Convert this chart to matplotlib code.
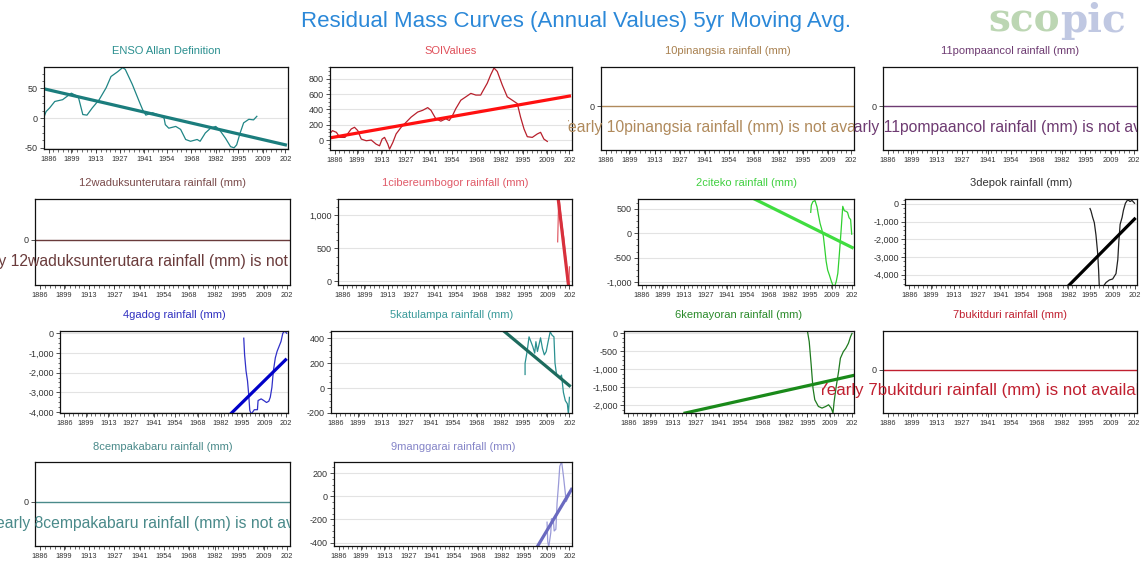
import numpy as np
import matplotlib
matplotlib.use("Agg")
from matplotlib import pyplot as plt
from matplotlib.ticker import FuncFormatter, MultipleLocator, AutoMinorLocator, NullLocator
from matplotlib.transforms import Bbox, TransformedBbox

plt.rcParams['font.family'] = ['Liberation Sans', 'DejaVu Sans']

# ---- data ----
x_ticks = [1886, 1899, 1913, 1927, 1941, 1954, 1968, 1982, 1995, 2009, 2022]
x_tick_labels = ['1886', '1899', '1913', '1927', '1941', '1954', '1968', '1982', '1995', '2009', '202']

enso_years = [1883.7, 1884.5, 1886.5, 1889.5, 1894, 1899, 1903, 1905.6, 1908, 1911, 1915, 1919,
              1921.8, 1925.6, 1928.5, 1930, 1934, 1938, 1940, 1941.8, 1945.6, 1949.4, 1952.3,
              1953, 1955, 1959, 1961.8, 1964.7, 1967.5, 1971.3, 1973, 1976, 1979, 1982, 1984.7,
              1987.6, 1990.5, 1992.5, 1994, 1996, 1998, 2001, 2003.7, 2005.6]
enso_vals = [5, 11, 17, 28, 31, 42, 36, 6, 5, 17, 31, 51, 70, 78, 85, 82, 57, 28, 14, 5, 9, 5, 0,
             -11, -17, -14, -19, -36, -39, -36, -39, -25, -17, -14, -22, -34, -48, -50, -45, -25,
             -8, -2, -3, 3]
enso_trend_years = [1883.7, 2022]
enso_trend_vals = [49, -45]

soi_years = [1883.1, 1884.7, 1887, 1889, 1892, 1895.6, 1897.5, 1899.4, 1901.4, 1904.3, 1907.2,
             1910, 1912, 1913.5, 1914.9, 1916.8, 1917.8, 1919.7, 1921.6, 1924.5, 1927.4, 1930.3,
             1934.1, 1937, 1939.9, 1941.8, 1944.6, 1947.5, 1950.4, 1952.4, 1954.3, 1956.2, 1959.1,
             1962, 1964.9, 1967.8, 1970.6, 1971.6, 1974.4, 1976.4, 1978.3, 1980.2, 1983.1, 1986,
             1988.9, 1991.8, 1993.7, 1995.7, 1997.6, 2000.5, 2003.4, 2005.3, 2007.2, 2009.2]
soi_vals = [80, 123, 101, 35, 35, 145, 167, 123, 13, -9, 0, -53, -75, 13, 35, -53, -119, -31, 80,
            167, 233, 300, 366, 389, 424, 389, 278, 247, 278, 256, 322, 411, 521, 565, 610, 588,
            588, 631, 743, 853, 942, 897, 720, 565, 521, 477, 300, 145, 44, 35, 80, 101, 13, -18]
soi_trend_years = [1883.1, 2022]
soi_trend_vals = [28, 575]

cib_years = [2014.9, 2015.3, 2015.6, 2016.2, 2017, 2017.8, 2018.6, 2019.3, 2020, 2020.6, 2021.1, 2021.6, 2022]
cib_vals = [600, 1000, 1300, 1150, 950, 800, 650, 450, 300, 60, -60, -20, 220]
cib_trend_years = [2015.0, 2021.4]
cib_trend_vals = [1300, -60]

cit_years = [1995.4, 1995.8, 1996.8, 1998.2, 1999.5, 2000.3, 2001.5, 2002.5, 2003.6, 2004.4,
             2005.4, 2006.4, 2007.6, 2008.7, 2009.7, 2011, 2012, 2013, 2014, 2015.2, 2016.2,
             2017.2, 2018.2, 2019.3, 2020.3, 2021.3, 2022]
cit_vals = [427, 573, 646, 668, 537, 390, 198, 88, -58, -278, -571, -754, -864, -974, -1060, -1080,
            -985, -820, -425, 88, 550, 460, 450, 427, 317, 280, -20]
cit_trend_years = [1959, 2022.3]
cit_trend_vals = [698, -293]

dep_years = [1995.1, 1995.7, 1996.7, 1997.7, 1998.7, 1999.7, 2000.3, 2000.7, 2002.8, 2004.8,
             2006.8, 2008.8, 2010.8, 2011.9, 2012.5, 2013.3, 2014.5, 2015.3, 2016.5, 2017.9,
             2019.3, 2020.5, 2022]
dep_vals = [-259, -398, -756, -1055, -1751, -2746, -3741, -4650, -4700, -4438, -4298, -4239, -3940,
            -3144, -2149, -1154, -756, -358, 40, 239, 139, 199, 40]
dep_trend_years = [1982.6, 2022]
dep_trend_vals = [-4577, -850]

gad_years = [1996.3, 1996.8, 1997.7, 1998.6, 1999.3, 2000, 2000.9, 2002.8, 2004.7, 2005.1, 2007,
             2008.6, 2010.3, 2011.7, 2012.6, 2013.6, 2014.5, 2015.7, 2016.8, 2018, 2019.2, 2020.3,
             2021.5, 2022.7]
gad_vals = [-250, -1083, -1917, -2417, -3083, -3917, -4100, -3883, -3883, -3417, -3333, -3417,
            -3517, -3450, -3250, -2750, -1917, -1250, -917, -667, -417, 0, 117, 0]
gad_trend_years = [1988.8, 2022]
gad_trend_vals = [-4050, -1350]

kat_years = [1996.2, 1996.2, 1997.4, 1998.5, 1999.6, 2000.7, 2001.8, 2002.5, 2003.4, 2004.7,
             2005.2, 2006.3, 2007.4, 2008.5, 2009.6, 2010.8, 2011.9, 2013, 2013.6, 2014.5, 2016.3,
             2017.4, 2018.5, 2019.6, 2020.8, 2021.4, 2022]
kat_vals = [110, 200, 295, 413, 374, 334, 282, 374, 295, 374, 405, 320, 268, 295, 374, 453, 426,
            413, 203, 110, 84, 105, -34, -100, -126, -210, -74]
kat_trend_years = [1984, 2022]
kat_trend_vals = [458, 20]

kem_years = [1995.1, 1996.2, 1997.4, 1998.5, 1999.6, 2001.8, 2004, 2006.3, 2008, 2009.6, 2010.7,
             2011.4, 2012.5, 2014.1, 2015.2, 2017, 2018.5, 2020.1, 2021.4, 2022.3]
kem_vals = [65, -230, -876, -1521, -1843, -2028, -2074, -2028, -1982, -2074, -2212, -1889, -1521,
            -1060, -691, -507, -415, -276, -92, 0]
kem_trend_years = [1920.5, 2023]
kem_trend_vals = [-2212, -1170]

man_years = [2008.8, 2009.2, 2009.8, 2011, 2011.4, 2012.5, 2013, 2014, 2014.7, 2015.6, 2016.3,
             2017.4, 2018.5, 2019.2, 2020.1, 2021, 2022]
man_vals = [-224, -391, -440, -315, -194, -200, -300, -285, -60, 109, 260, 300, 170, 76, -45, -15, 15]
man_trend_years = [2003.3, 2023.2]
man_trend_vals = [-430, 60]

x_min, x_max = 1883.3, 2023.5
px_w, px_h = 1143, 562

fig = plt.figure(figsize=(px_w / 100, px_h / 100), dpi=100)
fig.patch.set_facecolor('white')


def frac(left, top, right, bottom):
    return [left / px_w, 1 - bottom / px_h, (right - left) / px_w, (bottom - top) / px_h]


def comma_fmt(v, pos):
    return f"{v:,.0f}"


def make_axes(box, title, title_color, ylim, ystep):
    ax = fig.add_axes(frac(*box))
    ax.set_xlim(x_min, x_max)
    ax.set_ylim(*ylim)
    ax.set_xticks(x_ticks)
    ax.set_xticklabels(x_tick_labels)
    ax.set_xticks(np.arange(1886, 2023, 13.6 / 5), minor=True)
    ax.yaxis.set_major_locator(MultipleLocator(ystep))
    ax.yaxis.set_minor_locator(AutoMinorLocator(4))
    ax.yaxis.set_major_formatter(FuncFormatter(comma_fmt))
    ax.tick_params(axis='x', which='major', labelsize=5.3, length=3, width=0.6, pad=2, colors='#333333')
    ax.tick_params(axis='x', which='minor', length=2, width=0.5, colors='#333333')
    ax.tick_params(axis='y', which='major', labelsize=6.5, length=3, width=0.6, pad=1.5, colors='#333333')
    ax.tick_params(axis='y', which='minor', length=1.5, width=0.5, colors='#333333')
    for s in ax.spines.values():
        s.set_linewidth(0.9)
        s.set_color('#111111')
    ax.set_title(title, color=title_color, fontsize=8, pad=9)
    return ax


def data_panel(box, title, title_color, ylim, ystep, yrs, vals, t_yrs, t_vals,
               line_color, trend_color):
    ax = make_axes(box, title, title_color, ylim, ystep)
    ax.grid(axis='y', color='#e3e3e3', linewidth=0.8)
    ax.set_axisbelow(True)
    ax.plot(yrs, vals, color=line_color, linewidth=0.9)
    ax.plot(t_yrs, t_vals, color=trend_color, linewidth=2.3)
    return ax


def empty_panel(box, title, title_color, line_color, msg, msg_left, clip, msg_size=11.3):
    ax = make_axes(box, title, title_color, (-1.05, 0.95), 1)
    ax.set_yticks([0])
    ax.yaxis.set_minor_locator(NullLocator())
    ax.axhline(0, color=line_color, linewidth=1.0)
    top, bottom = box[1], box[3]
    y_msg = bottom - (bottom - top) * 0.27
    t = fig.text(msg_left / px_w, 1 - y_msg / px_h, msg, color=line_color, fontsize=msg_size,
                 ha='left', va='center')
    t.set_clip_box(TransformedBbox(Bbox.from_extents(clip[0] / px_w, 0, clip[1] / px_w, 1),
                                   fig.transFigure))
    t.set_clip_on(True)
    return ax


# row 1
data_panel((44, 67, 288, 149), 'ENSO Allan Definition', '#2a8f8f', (-52, 86), 50,
           enso_years, enso_vals, enso_trend_years, enso_trend_vals, '#1f8585', '#1b7d7d')
data_panel((330, 67, 572, 150), 'SOIValues', '#e0505a', (-130, 955), 200,
           soi_years, soi_vals, soi_trend_years, soi_trend_vals, '#b8202c', '#ff1010')
empty_panel((601, 67, 854, 150), '10pinangsia rainfall (mm)', '#a8804f', '#b08a5c',
            'Yearly 10pinangsia rainfall (mm) is not available', 559, (568, 854))
empty_panel((883, 67, 1137, 150), '11pompaancol rainfall (mm)', '#6e3b72', '#6e3b72',
            'Yearly 11pompaancol rainfall (mm) is not available', 836, (854, 1137))

# row 2
empty_panel((35, 199, 290, 285), '12waduksunterutara rainfall (mm)', '#7a4b4b', '#6a3b3b',
            'Yearly 12waduksunterutara rainfall (mm) is not available', -37, (0, 290))
data_panel((338, 199, 572, 285), '1cibereumbogor rainfall (mm)', '#e05a68', (-55, 1250), 500,
           cib_years, cib_vals, cib_trend_years, cib_trend_vals, '#e0606a', '#d8303c')
data_panel((638, 199, 854, 285), '2citeko rainfall (mm)', '#40d040', (-1060, 700), 500,
           cit_years, cit_vals, cit_trend_years, cit_trend_vals, '#30d030', '#40dd40')
data_panel((905, 199, 1137, 285), '3depok rainfall (mm)', '#333333', (-4580, 280), 1000,
           dep_years, dep_vals, dep_trend_years, dep_trend_vals, '#222222', '#000000')

# row 3
data_panel((60, 331, 288, 413), '4gadog rainfall (mm)', '#3030c0', (-4050, 115), 1000,
           gad_years, gad_vals, gad_trend_years, gad_trend_vals, '#3030c8', '#0000c8')
data_panel((331, 331, 572, 413), '5katulampa rainfall (mm)', '#3a9a9a', (-200, 460), 200,
           kat_years, kat_vals, kat_trend_years, kat_trend_vals, '#2a9090', '#1d6b5e')
data_panel((624, 331, 854, 413), '6kemayoran rainfall (mm)', '#2a8a2a', (-2210, 65), 500,
           kem_years, kem_vals, kem_trend_years, kem_trend_vals, '#1f7a1f', '#1a8a1a')
empty_panel((883, 331, 1137, 413), '7bukitduri rainfall (mm)', '#c02030', '#c02030',
            'Yearly 7bukitduri rainfall (mm) is not available', 817, (822, 1137), 12.2)

# row 4
empty_panel((35, 462, 290, 546), '8cempakabaru rainfall (mm)', '#4a8a8a', '#4a8a8a',
            'Yearly 8cempakabaru rainfall (mm) is not available', -13, (0, 290))
data_panel((334, 462, 572, 546), '9manggarai rainfall (mm)', '#8585c8', (-430, 297), 200,
           man_years, man_vals, man_trend_years, man_trend_vals, '#9a9ad8', '#6a6ac0')

fig.text(576 / px_w, 1 - 22 / px_h, 'Residual Mass Curves (Annual Values) 5yr Moving Avg.',
         color='#2b88d8', fontsize=16, ha='center', va='center')
fig.text(1060 / px_w, 1 - 21 / px_h, 'sco', color='#bcd6b3', fontsize=28, fontweight='bold',
         family='DejaVu Serif', ha='right', va='center')
fig.text(1060 / px_w, 1 - 21 / px_h, 'pic', color='#c0c8e2', fontsize=28, fontweight='bold',
         family='DejaVu Serif', ha='left', va='center')

fig.savefig('out.png', dpi=100, facecolor='white')
